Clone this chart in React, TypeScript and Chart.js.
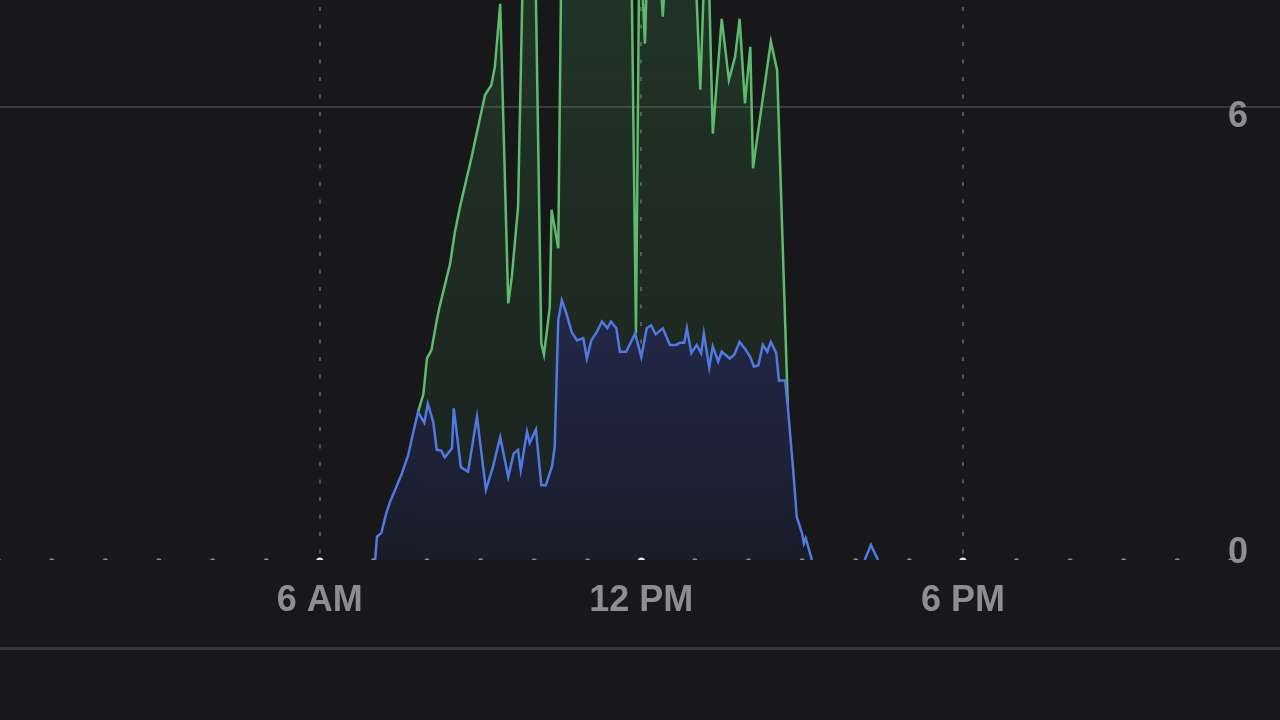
import React, { useEffect, useRef } from "react";
import { Chart, registerables } from "chart.js";

Chart.register(...registerables);

// time of day in minutes since midnight
const blueMinutes = [
  422, 424, 429, 434, 438, 452, 459, 464, 470, 477, 481, 487, 491, 496, 500, 508, 510, 518, 526, 536,
  546, 554, 562, 571, 577, 582, 585, 592, 595, 602, 608, 613, 620, 623, 627, 631, 636, 642, 648, 655,
  659, 664, 670, 676, 682, 686, 692, 696, 703, 713, 720, 726, 731, 736, 744, 752, 759, 763, 768, 771,
  776, 782, 787, 790, 796, 800, 806, 810, 819, 824, 830, 836, 842, 846, 851, 856, 861, 865, 871, 874,
  881, 884, 890, 894, 900, 902, 904, 911, 940, 970, 977, 985,
];
const blueValues: (number | null)[] = [
  0, 0.31, 0.36, 0.6, 0.75, 1.15, 1.39, 1.66, 1.96, 1.82, 2.07, 1.83, 1.46, 1.45, 1.36, 1.48, 2.01, 1.23, 1.17, 1.9,
  0.93, 1.24, 1.63, 1.1, 1.41, 1.46, 1.19, 1.7, 1.55, 1.73, 0.99, 0.99, 1.24, 1.5, 3.18, 3.44, 3.27, 3.02, 2.91, 2.94,
  2.67, 2.91, 3.02, 3.16, 3.07, 3.16, 3.07, 2.76, 2.76, 3.0, 2.69, 3.07, 3.11, 2.99, 3.07, 2.85, 2.85, 2.88, 2.88, 3.07,
  2.74, 2.85, 2.74, 3.0, 2.55, 2.83, 2.63, 2.76, 2.67, 2.72, 2.89, 2.8, 2.69, 2.56, 2.58, 2.85, 2.76, 2.89, 2.74, 2.38,
  2.38, 2.03, 1.19, 0.57, 0.35, 0.22, 0.29, 0, null, 0, 0.2, 0,
];

const greenMinutes = [
  470, 476, 480, 485, 491, 494, 506, 511, 517, 530, 545, 552, 556, 562, 571, 575, 582, 588, 601, 608,
  611, 617.5, 619.5, 627, 631, 657, 685, 708, 714, 718, 724, 728, 739, 744, 749, 763, 780, 786, 791, 795,
  800, 810, 818, 825, 830, 836, 842, 845, 853, 865, 872, 884,
];
const greenValues = [
  1.96, 2.2, 2.67, 2.78, 3.18, 3.35, 3.93, 4.33, 4.68, 5.34, 6.16, 6.29, 6.53, 7.37, 3.4, 3.75, 4.68, 8.2, 8.2, 2.87,
  2.72, 3.35, 4.64, 4.13, 8.6, 8.9, 8.7, 8.8, 3.0, 8.5, 6.84, 8.4, 8.2, 7.2, 8.2, 8.6, 8.0, 6.23, 8.0, 8.0,
  5.65, 7.17, 6.36, 6.67, 7.17, 6.05, 6.8, 5.19, 5.87, 6.87, 6.49, 2.03,
];

const xTickHours = [6, 12, 18];
const xTickLabels = ["6 AM", "12 PM", "6 PM"];
const yTickValues = [0, 6];
const yTickLabels = ["0", "6"];

const BG = "#18181a";
const LABEL_COLOR = "#8e8e92";
const LABEL_FONT = 'bold 36px "Liberation Sans", Arial, sans-serif';

const overlayPlugin = {
  id: "overlay",
  afterDraw(chart: any) {
    const { ctx, chartArea, scales } = chart;
    const xs = scales.x;
    const ys = scales.y;
    // hour dots along the baseline
    ctx.save();
    ctx.beginPath();
    ctx.rect(chartArea.left - 5, chartArea.top, chartArea.right - chartArea.left + 10, chartArea.bottom - chartArea.top);
    ctx.clip();
    for (let h = 0; h <= 24; h++) {
      const px = xs.getPixelForValue(h * 60);
      const major = xTickHours.includes(h);
      ctx.fillStyle = major ? "#e6e6e6" : "#8a8a8e";
      ctx.beginPath();
      ctx.arc(px, chartArea.bottom + 1, major ? 3.6 : 2.7, 0, Math.PI * 2);
      ctx.fill();
    }
    ctx.restore();

    ctx.save();
    ctx.font = LABEL_FONT;
    ctx.fillStyle = LABEL_COLOR;
    // x labels
    ctx.textAlign = "center";
    ctx.textBaseline = "alphabetic";
    xTickHours.forEach((h, i) => {
      ctx.fillText(xTickLabels[i], xs.getPixelForValue(h * 60), chartArea.bottom + 51);
    });
    // y labels (inside plot, right side)
    ctx.textAlign = "right";
    ctx.textBaseline = "middle";
    yTickValues.forEach((v, i) => {
      const py = Math.min(ys.getPixelForValue(v) + 10, chartArea.bottom - 7);
      ctx.fillText(yTickLabels[i], chartArea.right - 32, py);
    });
    // bottom separator
    ctx.fillStyle = "#37373a";
    ctx.fillRect(0, chartArea.bottom + 87, chart.width, 3);
    ctx.restore();
  },
};

export default function App() {
  const ref = useRef<HTMLCanvasElement | null>(null);

  useEffect(() => {
    document.body.style.margin = "0";
    document.body.style.background = BG;
    const canvas = ref.current;
    if (!canvas) return;

    const blueData = blueMinutes.map((m, i) => ({ x: m, y: blueValues[i] }));
    const greenData = greenMinutes.map((m, i) => ({ x: m, y: greenValues[i] }));

    const chart = new Chart(canvas, {
      type: "line",
      data: {
        datasets: [
          {
            data: blueData as any,
            borderColor: "#5079e2",
            borderWidth: 2.5,
            pointRadius: 0,
            tension: 0,
            spanGaps: false,
            clip: 0,
            fill: "origin",
            backgroundColor: (c: any) => {
              const area = c.chart.chartArea;
              if (!area) return "rgba(30,34,60,0.95)";
              const g = c.chart.ctx.createLinearGradient(0, area.top, 0, area.bottom);
              g.addColorStop(0, "rgba(40,50,100,0.97)");
              g.addColorStop(0.5, "rgba(35,42,78,0.97)");
              g.addColorStop(1, "rgba(27,29,42,0.97)");
              return g;
            },
          },
          {
            data: greenData as any,
            borderColor: "#5dbb6c",
            borderWidth: 2.5,
            pointRadius: 0,
            tension: 0,
            clip: 0,
            fill: "origin",
            backgroundColor: (c: any) => {
              const area = c.chart.chartArea;
              if (!area) return "rgba(76,175,96,0.1)";
              const g = c.chart.ctx.createLinearGradient(0, area.top, 0, area.bottom);
              g.addColorStop(0, "rgba(76,175,96,0.18)");
              g.addColorStop(1, "rgba(76,175,96,0.07)");
              return g;
            },
          },
        ],
      },
      options: {
        animation: false,
        responsive: false,
        devicePixelRatio: 1,
        layout: { padding: { left: 0, right: 0, top: 0, bottom: 160 } },
        plugins: { legend: { display: false }, tooltip: { enabled: false } },
        scales: {
          x: {
            type: "linear",
            min: 2,
            max: 1435,
            z: 1,
            afterBuildTicks: (axis: any) => {
              axis.ticks = xTickHours.map((h) => ({ value: h * 60 }));
            },
            ticks: { display: false },
            grid: { color: "#545457", lineWidth: 2, drawTicks: false },
            border: { display: false, dash: [4, 13.5], dashOffset: 10.5 },
          },
          y: {
            type: "linear",
            min: 0,
            max: 7.42,
            z: 1,
            afterBuildTicks: (axis: any) => {
              axis.ticks = [{ value: 6 }];
            },
            ticks: { display: false },
            grid: { color: "#3a3a3d", lineWidth: 2, drawTicks: false },
            border: { display: false },
          },
        },
      },
      plugins: [overlayPlugin],
    });

    return () => chart.destroy();
  }, []);

  return (
    <div style={{ position: "fixed", left: 0, top: 0, width: 1280, height: 720, background: BG }}>
      <canvas ref={ref} width={1280} height={720} style={{ display: "block" }} />
    </div>
  );
}
